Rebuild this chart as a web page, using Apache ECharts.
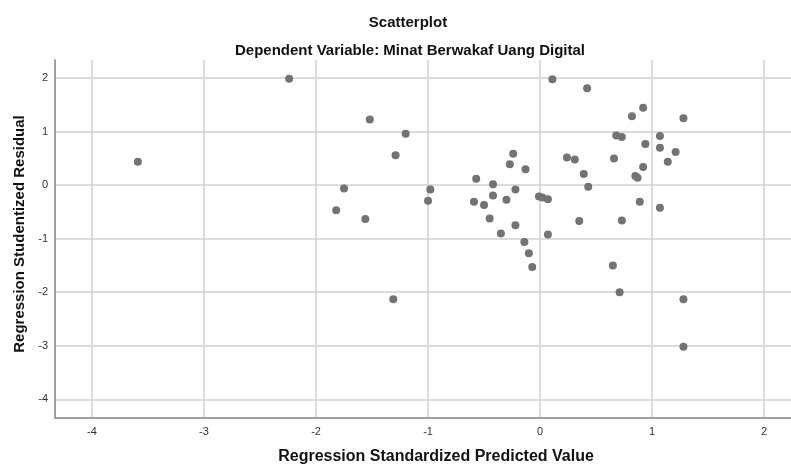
<!DOCTYPE html>
<html>
<head>
<meta charset="utf-8">
<script src="https://cdn.jsdelivr.net/npm/echarts@6/dist/echarts.min.js"></script>
<style>html,body{margin:0;padding:0;background:#fff}#c{width:791px;height:465px}</style>
</head>
<body>
<div id="c"></div>
<script>
// Regression Standardized Predicted Value
var predicted = [-3.59, -2.24, -1.82, -1.52, -1.20, -1.29, -1.75, -1.56, -0.98, -1.00,
  -1.31, -0.57, -0.59, -0.50, -0.42, -0.42, -0.45, -0.35, -0.24, -0.27,
  -0.13, -0.22, -0.30, -0.22, -0.14, -0.10, -0.07, -0.01, 0.02, 0.07,
  0.07, 0.11, 0.42, 0.92, 0.82, 1.28, 0.68, 0.73, 1.07, 0.94,
  1.07, 1.21, 1.14, 0.24, 0.31, 0.66, 0.39, 0.92, 0.85, 0.87,
  0.43, 0.89, 1.07, 0.35, 0.73, 0.65, 0.71, 1.28, 1.28];
// Regression Studentized Residual
var residual = [0.44, 1.99, -0.47, 1.23, 0.96, 0.56, -0.06, -0.63, -0.08, -0.29,
  -2.13, 0.12, -0.31, -0.37, 0.02, -0.19, -0.62, -0.90, 0.59, 0.39,
  0.30, -0.08, -0.27, -0.75, -1.06, -1.27, -1.53, -0.21, -0.23, -0.26,
  -0.92, 1.98, 1.81, 1.45, 1.29, 1.25, 0.93, 0.90, 0.92, 0.77,
  0.70, 0.62, 0.44, 0.52, 0.48, 0.50, 0.21, 0.34, 0.17, 0.14,
  -0.03, -0.31, -0.42, -0.67, -0.66, -1.50, -2.00, -2.13, -3.02];
var xTicks = [-4, -3, -2, -1, 0, 1, 2];
var yTicks = [-4, -3, -2, -1, 0, 1, 2];
var titleText = 'Scatterplot';
var subtitleText = 'Dependent Variable: Minat Berwakaf Uang Digital';
var xName = 'Regression Standardized Predicted Value';
var yName = 'Regression Studentized Residual';

var points = predicted.map(function (x, i) { return [x, residual[i]]; });
var font = 'Liberation Sans, Arial, sans-serif';
var chart = echarts.init(document.getElementById('c'), null, {renderer: 'canvas'});
chart.setOption({
  animation: false,
  backgroundColor: '#fff',
  title: [
    {text: titleText, left: 403, top: 10, textAlign: 'center',
     textStyle: {fontFamily: font, fontSize: 15, fontWeight: 'bold', color: '#111'}},
    {text: subtitleText, left: 405, top: 38, textAlign: 'center',
     textStyle: {fontFamily: font, fontSize: 15, fontWeight: 'bold', color: '#111'}}
  ],
  grid: {left: 55, right: 0, top: 60, bottom: 47, containLabel: false, outerBoundsMode: 'none'},
  xAxis: {
    type: 'value', min: -4.33, max: 2.24,
    name: xName, nameLocation: 'middle', nameGap: 31,
    nameTextStyle: {fontFamily: font, fontSize: 16, fontWeight: 'bold', color: '#111', padding: [0, 0, 0, 26]},
    axisLine: {show: true, onZero: false, lineStyle: {color: '#a0a0a0', width: 2}},
    axisTick: {show: false, customValues: xTicks},
    axisLabel: {customValues: xTicks, margin: 8, fontFamily: font, fontSize: 11, color: '#333'},
    splitLine: {show: true, lineStyle: {color: '#d0d0d0', width: 1.5}}
  },
  yAxis: {
    type: 'value', min: -4.35, max: 2.34,
    name: yName, nameLocation: 'middle', nameGap: 28,
    nameTextStyle: {fontFamily: font, fontSize: 15, fontWeight: 'bold', color: '#111', padding: [0, 0, 0, 10]},
    axisLine: {show: true, onZero: false, lineStyle: {color: '#a0a0a0', width: 2}},
    axisTick: {show: false, customValues: yTicks},
    axisLabel: {customValues: yTicks, margin: 7, fontFamily: font, fontSize: 11, color: '#333'},
    splitLine: {show: true, lineStyle: {color: '#d0d0d0', width: 1.5}}
  },
  series: [{
    type: 'scatter', data: points, symbol: 'circle', symbolSize: 8,
    itemStyle: {color: '#737373', opacity: 1}
  }]
});
</script>
</body>
</html>
